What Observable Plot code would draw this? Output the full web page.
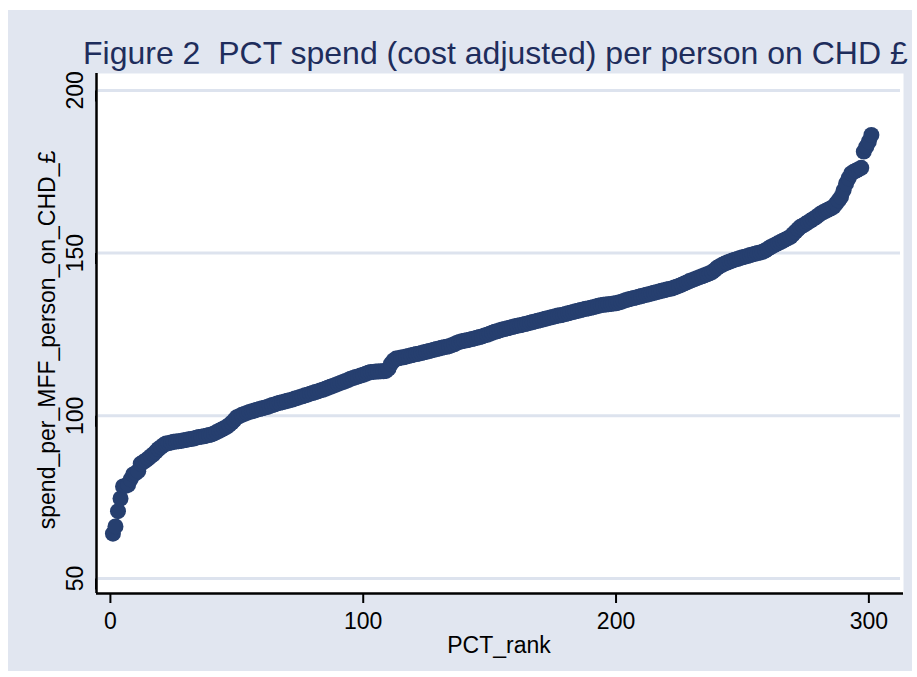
<!DOCTYPE html>
<html><head><meta charset="utf-8">
<script src="https://cdn.jsdelivr.net/npm/d3@7"></script>
<script src="https://cdn.jsdelivr.net/npm/@observablehq/plot@0.6"></script>
<style>body{margin:0;background:#fff;}</style>
</head><body><div id="chart"></div>
<script>
// spend per person (sorted), one value per PCT rank 1..301
const spend = [
 63.8, 66.0, 70.7, 74.6, 78.3, 78.5, 78.8, 80.5, 82.0, 82.4,
 83.0, 85.3, 85.8, 86.3, 86.9, 87.6, 88.2, 89.0, 89.8, 90.4,
 91.0, 91.5, 91.6, 91.8, 92.0, 92.1, 92.2, 92.3, 92.5, 92.6,
 92.8, 92.9, 93.0, 93.3, 93.5, 93.6, 93.7, 93.9, 94.1, 94.3,
 94.6, 95.0, 95.4, 95.8, 96.2, 96.6, 97.2, 97.9, 98.7, 99.6,
 99.9, 100.3, 100.6, 100.9, 101.2, 101.4, 101.6, 101.9, 102.1, 102.3,
 102.5, 102.7, 103.0, 103.3, 103.5, 103.8, 104.0, 104.2, 104.4, 104.6,
 104.8, 105.0, 105.3, 105.5, 105.8, 106.0, 106.3, 106.5, 106.8, 107.0,
 107.3, 107.5, 107.8, 108.0, 108.3, 108.6, 108.9, 109.2, 109.5, 109.8,
 110.1, 110.4, 110.7, 111.0, 111.4, 111.6, 111.9, 112.1, 112.4, 112.6,
 112.9, 113.2, 113.5, 113.5, 113.6, 113.6, 113.7, 113.7, 113.8, 114.5,
 116.0, 117.0, 117.6, 117.7, 117.9, 118.0, 118.2, 118.4, 118.6, 118.8,
 119.0, 119.1, 119.3, 119.5, 119.7, 119.9, 120.1, 120.3, 120.5, 120.7,
 120.9, 121.1, 121.2, 121.4, 121.7, 122.0, 122.4, 122.7, 122.9, 123.1,
 123.2, 123.4, 123.6, 123.8, 124.0, 124.2, 124.4, 124.7, 124.9, 125.2,
 125.5, 125.8, 126.0, 126.3, 126.5, 126.7, 126.9, 127.1, 127.3, 127.5,
 127.7, 127.8, 128.0, 128.2, 128.4, 128.6, 128.8, 129.0, 129.2, 129.4,
 129.6, 129.8, 130.0, 130.2, 130.4, 130.6, 130.8, 130.9, 131.1, 131.3,
 131.5, 131.7, 131.9, 132.1, 132.3, 132.5, 132.7, 132.9, 133.0, 133.2,
 133.4, 133.6, 133.8, 134.0, 134.1, 134.2, 134.3, 134.4, 134.5, 134.6,
 134.8, 135.0, 135.3, 135.6, 135.8, 136.0, 136.2, 136.4, 136.6, 136.8,
 137.0, 137.2, 137.4, 137.6, 137.8, 138.0, 138.2, 138.4, 138.6, 138.8,
 139.0, 139.1, 139.4, 139.7, 140.0, 140.3, 140.7, 141.0, 141.4, 141.7,
 142.0, 142.3, 142.6, 142.9, 143.2, 143.5, 143.8, 144.2, 144.8, 145.5,
 146.0, 146.4, 146.8, 147.1, 147.4, 147.7, 148.0, 148.2, 148.5, 148.7,
 148.9, 149.1, 149.4, 149.6, 149.8, 150.0, 150.2, 150.4, 150.8, 151.3,
 151.8, 152.2, 152.6, 153.0, 153.4, 153.8, 154.2, 154.6, 155.0, 155.8,
 156.6, 157.4, 158.1, 158.5, 159.0, 159.5, 160.0, 160.5, 161.0, 161.6,
 162.2, 162.6, 163.0, 163.4, 163.8, 164.2, 165.2, 166.2, 167.3, 169.3,
 171.4, 173.0, 174.5, 175.0, 175.4, 175.8, 176.2, 181.2, 182.7, 184.3,
 186.3
];
const xTicks = [0, 100, 200, 300];
const yTicks = [50, 100, 150, 200];
const titleText = "Figure 2  PCT spend (cost adjusted) per person on CHD £";
const xLabel = "PCT_rank";
const yLabel = "spend_per_MFF_person_on_CHD_£";

const data = spend.map((v, i) => ({rank: i + 1, spend: v}));
const xDomain = [-5.5, 313.7];
const yDomain = [45.4, 205.2];
const font = "'Liberation Sans', Arial, Helvetica, sans-serif";

const plot = Plot.plot({
  width: 917, height: 677,
  marginLeft: 96, marginRight: 14, marginTop: 73, marginBottom: 84,
  style: {fontFamily: font, background: "transparent", overflow: "visible"},
  x: {domain: xDomain},
  y: {domain: yDomain},
  marks: [
    Plot.frame({fill: "white", stroke: "none"}),
    Plot.ruleY(yTicks, {stroke: "#dde3ee", strokeWidth: 3, insetLeft: 2, insetRight: 3}),
    Plot.dot(data, {x: "rank", y: "spend", r: 8, fill: "#263f6f", stroke: "none"}),
    Plot.ruleX([xDomain[0]], {stroke: "black", strokeWidth: 2.5}),
    Plot.ruleY([yDomain[0]], {stroke: "black", strokeWidth: 2.5}),
    Plot.axisX({ticks: xTicks, tickSize: 10, tickPadding: 9, fontSize: 23, label: null, strokeWidth: 2, tickFormat: d => String(d)}),
    Plot.axisY({ticks: yTicks, tickSize: 11, tickPadding: 3, fontSize: 23, label: null, rotate: -90,
      textAnchor: "middle", lineAnchor: "bottom", strokeWidth: 2, tickFormat: d => String(d)})
  ]
});

const svg = d3.select(plot);
svg.insert("rect", ":first-child")
  .attr("x", 8).attr("y", 10).attr("width", 904).attr("height", 661)
  .attr("fill", "#e1e6f0");
svg.append("text")
  .attr("x", 83).attr("y", 64)
  .attr("text-anchor", "start")
  .attr("font-size", 32).attr("fill", "#1e2d5c")
  .attr("font-family", font)
  .text(titleText);
svg.append("text")
  .attr("x", 499).attr("y", 653)
  .attr("text-anchor", "middle")
  .attr("font-size", 23).attr("fill", "black")
  .attr("font-family", font)
  .text(xLabel);
svg.append("text")
  .attr("transform", "translate(55,340) rotate(-90)")
  .attr("text-anchor", "middle")
  .attr("font-size", 23).attr("fill", "black")
  .attr("font-family", font)
  .text(yLabel);

document.getElementById("chart").appendChild(plot);
</script>
</body></html>
